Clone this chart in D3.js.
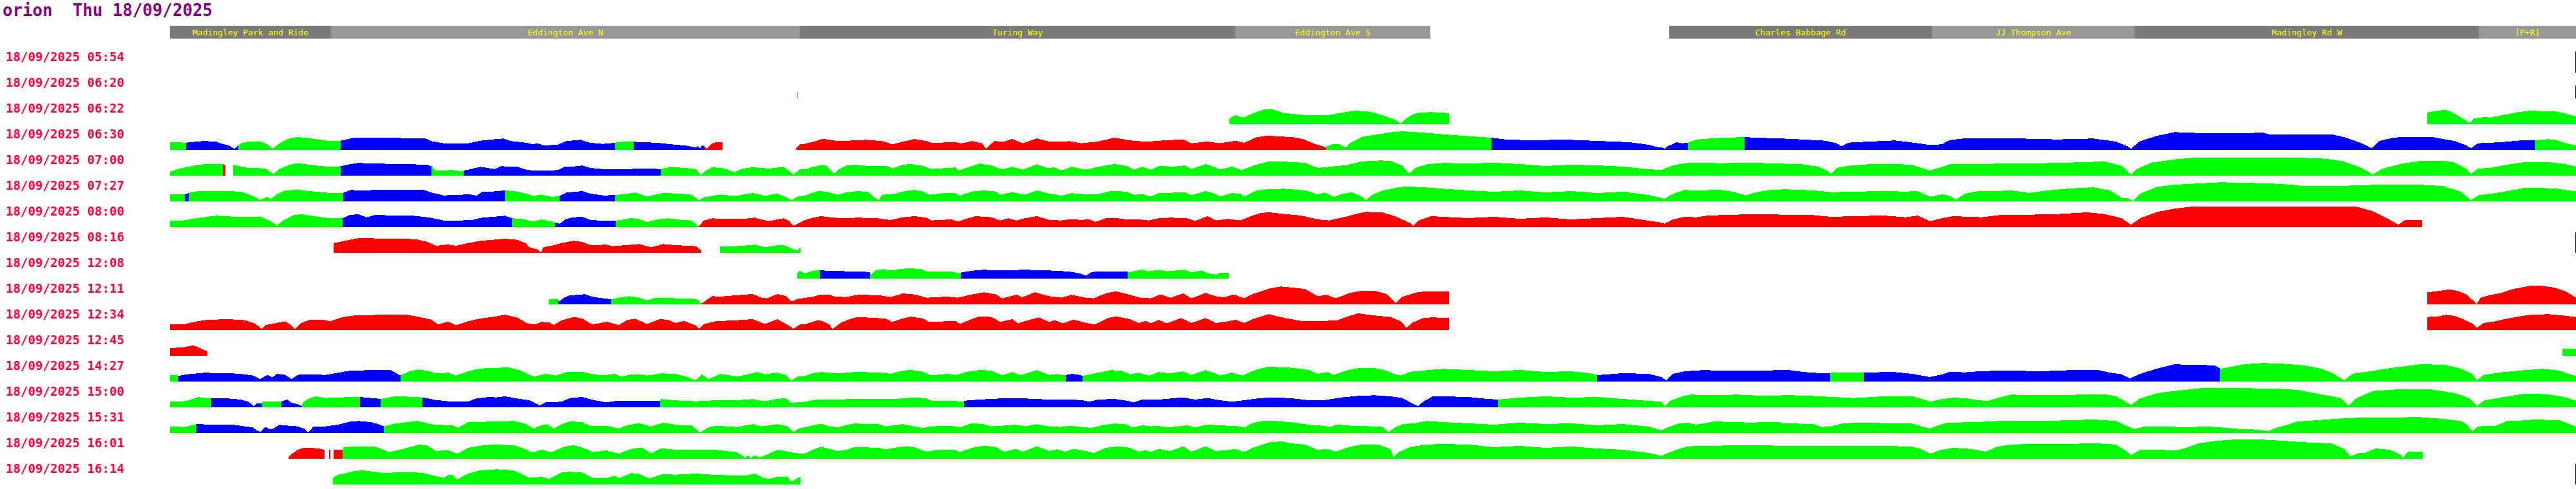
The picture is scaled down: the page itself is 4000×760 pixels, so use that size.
<!DOCTYPE html>
<html>
<head>
<meta charset="utf-8">
<script src="https://cdn.jsdelivr.net/npm/d3@7"></script>
<style>
  body { margin: 0; background: #fff; }
  svg { display: block; }
  text { font-family: "DejaVu Sans Mono", monospace; }
</style>
</head>
<body>
<svg id="chart" width="4000" height="760"></svg>
<script>
// bus "orion", one strip per journey, x = position along the route, height = speed

const title = "orion  Thu 18/09/2025";

const stops = ["Madingley Park and Ride", "Eddington Ave N", "Turing Way", "Eddington Ave S",
               "Charles Babbage Rd", "JJ Thompson Ave", "Madingley Rd W", "[P+R]"];
const stopFrom = [264, 514, 1242, 1918, 2592, 3000, 3315, 3849];
const stopTo   = [514, 1242, 1918, 2221, 3000, 3315, 3849, 4000];

const journeys = ["18/09/2025 05:54", "18/09/2025 06:20", "18/09/2025 06:22", "18/09/2025 06:30",
                  "18/09/2025 07:00", "18/09/2025 07:27", "18/09/2025 08:00", "18/09/2025 08:16",
                  "18/09/2025 12:08", "18/09/2025 12:11", "18/09/2025 12:34", "18/09/2025 12:45",
                  "18/09/2025 14:27", "18/09/2025 15:00", "18/09/2025 15:31", "18/09/2025 16:01",
                  "18/09/2025 16:14"];

// speed profiles [position, speed], null = no data
const p0 = [[3999,33],[4000,33]];
const p1 = [[1238,10],[1239,10],[1240,null],[3999,20],[4000,20]];
const p2 = [[1909,7],[1913,12],[1919,13.7],[1924,12],[1931,10.3],[1938,13.7],[1951,18.7],[1963,22.7],[1973,23.7],[1982,21.3],[1995,17],[2008,16],[2027,13.7],[2046,13.7],[2064,14.3],[2083,17.7],[2102,20.7],[2121,20.3],[2134,17.7],[2153,12],[2166,7],[2176,1],[2181,7],[2191,13.7],[2203,17.7],[2222,18.7],[2240,18],[2250,17],[2251,null],
  [3769,18],[3780,20.3],[3794,22],[3803,21],[3816,13.7],[3830,5.3],[3836,2],[3841,8.7],[3857,11],[3866,10.3],[3884,13.7],[3911,18.7],[3929,21],[3948,20],[3970,19.7],[3988,15.3],[4000,12]];
const p3 = [[264,12],[289,11.3],[304,12.7],[317,14],[336,12.7],[342,10.3],[355,7],[364,2],[369,6],[374,10.3],[386,13],[405,12.7],[415,8.7],[423,2],[425,3.7],[437,12],[449,17.7],[462,20],[475,18.7],[494,16.3],[513,13.7],[529,14.3],[531,14.7],[550,19],[576,18.7],[607,19],[639,18],[661,17.7],[670,13.7],[689,10.3],[727,10.3],[746,14.3],[765,16.3],[781,17.7],[794,13.7],[816,11.3],[828,8.7],[835,10.3],[844,7],[866,8],[879,13.7],[901,15.7],[917,11],[936,9.3],[948,10.3],[955,11.3],[967,12.7],[984,13],[992,12],[1018,11.3],[1043,8.7],[1068,6.3],[1081,3.7],[1084,6],[1087,2],[1090,7],[1093,6.3],[1097,2],[1106,10.3],[1112,12],[1122,12],[1123,null],
  [1236,2],[1242,8.7],[1250,9.5],[1263,12.7],[1278,17.3],[1301,13.7],[1326,14.7],[1345,15.7],[1370,13.7],[1386,8.7],[1402,12.7],[1420,17],[1439,13.7],[1446,11],[1484,12],[1493,10],[1509,13.7],[1525,10.3],[1531,2],[1544,13.7],[1559,13],[1572,17],[1588,10.3],[1610,17.7],[1629,13],[1648,12.7],[1660,13.7],[1679,10.3],[1705,13],[1730,19],[1755,14.7],[1780,12.7],[1806,14.7],[1837,16.3],[1850,10.3],[1875,13],[1894,10.3],[1919,14.3],[1932,11],[1951,19.7],[1967,22],[1982,21.3],[2008,19.7],[2023,17],[2039,10.3],[2059,3.7],
  [2060,5.3],[2068,8.7],[2080,8.7],[2090,3.7],[2096,10.3],[2115,20.3],[2140,24.3],[2159,27.3],[2178,29],[2197,27.7],[2222,26],[2240,24.3],[2270,22],[2300,20],[2316,19],[2340,16],[2380,15],[2430,16],[2480,14],[2530,12],[2560,8],[2575,4],
  [2580,3.7],[2585,2],[2589,5.3],[2603,12],[2612,10.3],[2621,11],[2634,16],[2662,18.3],[2709,20],[2725,19],[2761,18],[2797,16.3],[2834,14.3],[2852,10.3],[2859,5.3],[2870,11.3],[2897,12.7],[2942,14.7],[2960,12.7],[2978,10.3],[2997,7.7],[3015,8.7],[3028,15.3],[3051,18],[3105,18.3],[3141,17.7],[3160,17],[3196,16.3],[3250,17.7],[3286,13],[3304,5.3],[3309,2],[3323,13.7],[3350,22],[3377,27.7],[3413,26.3],[3486,26],[3513,27],[3526,23.7],[3576,24.3],[3621,24.3],[3644,18.7],[3667,10.3],[3683,2.7],[3694,13.7],[3717,19.3],[3748,20.3],[3775,20.3],[3812,13.7],[3830,7],[3837,2.7],[3848,10.3],[3884,12],[3920,15.3],[3936,14.7],[3957,16.7],[3970,15.3],[3984,10.3],[4000,7]];
const p4 = [[264,5.3],[269,7.7],[279,11],[292,13.7],[304,16.3],[317,17.7],[346,17.7],[350,17],[351,null],[362,17],[374,14.3],[386,12],[412,11.3],[421,5.3],[425,3],[434,10.3],[449,17],[462,19.3],[481,17],[500,14.7],[519,13.7],[529,14.7],[544,18],[557,19.7],[588,18.7],[639,17.7],[664,17],[670,14.3],[677,7.7],[702,8.7],[715,7],[720,7.7],[734,11],[746,13.7],[759,11.7],[768,10.3],[778,14.7],[803,13.7],[816,9.7],[828,7.7],[847,7.7],[866,8.7],[876,13.7],[891,14.3],[904,15.7],[917,12],[942,9.7],[955,10.3],[973,10.3],[1005,11],[1026,10.3],[1043,13.7],[1062,12],[1081,10.3],[1088,1],[1097,8.7],[1106,13],[1125,11.3],[1141,5.3],[1150,10.3],[1169,13],[1194,11],[1217,13.7],[1232,2],[1242,9.7],[1250,9.7],
  [1263,13.7],[1278,17],[1285,14.3],[1291,7],[1295,3],[1301,8.7],[1313,15.3],[1326,17],[1345,15.3],[1376,15.3],[1386,11.3],[1402,17],[1414,18],[1433,15.3],[1446,10.3],[1471,12],[1484,12.7],[1489,8],[1503,13],[1521,18.7],[1540,16],[1556,9.7],[1572,13.7],[1588,9.3],[1610,17.7],[1626,12],[1638,12.7],[1648,8],[1664,13.7],[1686,9.3],[1701,12.7],[1717,16],[1730,18],[1749,15.3],[1761,9.7],[1774,13.7],[1787,9.3],[1799,14.7],[1825,14.3],[1840,16],[1850,10.3],[1872,18],[1881,15.3],[1894,9.7],[1913,13.7],[1929,8.7],[1945,15.3],[1970,22],[2008,21.3],[2027,19.7],[2046,12],[2064,13.7],[2090,16.3],[2115,22],[2143,23.7],[2159,23],[2178,15.3],[2186,5.3],[2189,3.7],[2197,12],[2216,17.7],[2240,19.7],[2280,19],[2320,20],[2360,18],[2400,15],[2440,17],[2480,16],[2520,14],[2560,10],
  [2580,8.7],[2587,12],[2598,16],[2616,19.3],[2634,20.3],[2671,19.3],[2716,20.3],[2761,18.7],[2797,18],[2825,13.7],[2838,7],[2844,3],[2852,12],[2870,15.3],[2906,18],[2942,18],[2969,17],[2983,12],[2997,8],[3010,12],[3028,18],[3078,18],[3123,19.3],[3169,19.3],[3214,20.3],[3268,22],[3295,15.3],[3309,2],[3318,10.3],[3341,20.3],[3377,25.3],[3404,27.7],[3486,27.7],[3576,27.7],[3612,26.3],[3640,22],[3667,12],[3685,2],[3698,10.3],[3730,18.7],[3757,22.7],[3794,23.3],[3812,20.3],[3830,10.3],[3837,2.7],[3848,11],[3866,12],[3893,17],[3920,21],[3957,21],[3984,18],[4000,14.3]];
const p5 = [[264,11],[287,11],[293,13],[304,15.3],[317,16.3],[355,16.3],[374,14.7],[386,11],[396,7],[404,2],[415,7],[421,3.7],[430,11.3],[443,17],[462,18],[481,16],[513,13],[533,13],[544,17.7],[563,17],[588,18],[639,18],[658,17.7],[670,13.7],[689,9.3],[715,10.3],[730,11],[740,8.7],[749,15.3],[765,15.3],[784,17],[803,15.3],[816,12],[828,8.7],[841,10.3],[857,7],[869,8.7],[879,13.7],[904,16],[917,12],[936,9.3],[955,9.7],[967,11],[986,13.7],[1005,7.7],[1030,13],[1056,12],[1074,10.3],[1085,2],[1093,6.3],[1116,10.3],[1144,8.7],[1169,13],[1188,8.7],[1207,12],[1220,7],[1229,2],[1239,7.7],[1250,9],
  [1269,16],[1282,15.3],[1301,10.3],[1313,13.7],[1332,16],[1348,14.7],[1357,7],[1364,2],[1370,10.3],[1386,11],[1402,15.3],[1420,18],[1433,15.3],[1443,10.3],[1465,12.7],[1484,12.7],[1490,8.7],[1509,15.3],[1528,17],[1547,15.3],[1553,10.3],[1572,14.3],[1591,10.3],[1610,17],[1629,12],[1638,11],[1648,8.7],[1664,12.7],[1686,11],[1705,11.3],[1724,16],[1749,15.3],[1761,10.3],[1774,11],[1787,7.7],[1799,12.7],[1825,13.7],[1840,14.3],[1850,9.7],[1872,16],[1885,12.7],[1894,7.7],[1913,12.7],[1926,12],[1932,7.7],[1951,17],[1967,18.7],[1995,19.7],[2027,17],[2046,11],[2058,13.7],[2071,7],[2083,11.3],[2099,14.3],[2115,7],[2121,2],[2131,10.3],[2147,17],[2172,22],[2184,23],[2210,22],[2240,19.7],[2280,17],[2320,15],[2360,17],[2400,14],[2440,16],[2480,13],[2520,15],[2560,10],
  [2580,5.3],[2585,3.7],[2594,10.3],[2616,17.7],[2634,17],[2671,18],[2689,15.3],[2711,9.3],[2725,13.7],[2748,17.7],[2770,18.7],[2797,18],[2825,16.3],[2843,14.3],[2870,14.7],[2915,16],[2960,15.3],[2978,16],[2997,7],[3015,11],[3028,8.7],[3037,2.7],[3051,12],[3074,16.3],[3105,16.3],[3123,17],[3151,13],[3178,17],[3205,19.3],[3250,22],[3277,17],[3295,5.3],[3305,4.7],[3312,1],[3323,12],[3350,22.7],[3377,26],[3449,29.7],[3522,28],[3558,26],[3576,23.7],[3631,23.7],[3667,25.3],[3721,26],[3757,26],[3794,23.7],[3821,15.3],[3837,2],[3848,9.3],[3884,14.3],[3920,21],[3966,20.3],[4000,15.3]];
const p6 = [[264,10.3],[285,10.3],[304,13.7],[323,16.3],[336,17.7],[361,16.3],[405,16],[418,10.3],[430,3],[440,10.3],[456,18.7],[468,20],[487,17],[513,13.7],[532,13.7],[544,19.3],[557,19.7],[569,15.3],[582,18.7],[639,18],[664,15.3],[677,13],[689,10.3],[715,10.3],[734,11.3],[746,14.3],[765,16],[784,17.7],[795,13.7],[809,13],[828,8.7],[841,12],[857,8.7],[862,7],[869,5.3],[879,12.7],[891,15.3],[904,16],[917,11.3],[936,9.7],[956,9.7],[980,14],[992,12.7],[1005,7.7],[1018,11.3],[1037,13.7],[1056,11.3],[1074,10.3],[1084,2],[1085,1.3],[1093,10.3],[1106,13.7],[1125,12.7],[1157,13],[1172,14.7],[1182,12],[1194,9.3],[1207,12],[1217,13.7],[1226,9.3],[1232,2],[1242,7],[1250,11],
  [1263,14.7],[1275,17],[1294,14.7],[1313,13.7],[1332,14.7],[1364,13.7],[1383,11],[1402,15.3],[1420,17],[1439,14.7],[1446,10.3],[1477,12],[1487,8.7],[1503,13.7],[1515,17],[1540,15.3],[1553,10.3],[1566,13.7],[1578,10.3],[1591,13.7],[1610,17],[1629,11.3],[1648,10.3],[1660,12],[1679,11.3],[1692,12],[1701,8],[1717,13.7],[1736,13.7],[1749,12],[1768,12],[1784,10.3],[1799,13.7],[1818,14.7],[1843,13.7],[1856,9.7],[1875,17],[1888,10.3],[1907,12.7],[1926,10.3],[1938,15.3],[1957,22],[1970,23],[1995,20.3],[2020,18],[2039,13.7],[2052,11.3],[2064,10.3],[2071,12],[2090,16.3],[2109,21.3],[2121,23.7],[2147,22.7],[2166,17],[2181,10.3],[2191,5.3],[2194,2],[2203,10.3],[2222,17],[2240,16],[2280,14],[2320,16],[2360,13],[2400,15],[2440,12],[2480,14],[2520,16],[2560,10],
  [2580,7],[2585,5.3],[2598,12],[2616,16],[2634,15.3],[2652,18],[2716,20],[2779,19.3],[2815,18.7],[2843,16],[2879,17],[2924,18],[2960,15.3],[2978,18],[2997,9.3],[3015,13.7],[3033,17],[3078,15.3],[3105,18.7],[3151,19.3],[3196,20.3],[3241,23],[3268,20.3],[3295,13.7],[3309,3.7],[3323,13.7],[3350,23.7],[3377,28.7],[3404,32],[3486,32],[3576,32],[3658,32],[3685,24.7],[3707,13.7],[3724,3.7],[3735,11.3],[3744,11.3],[3761,11.3],[3762,null]];
const p7 = [[518,15.3],[528,17],[538,19.3],[557,23],[576,22.7],[595,22],[614,22],[645,21.3],[664,17],[677,11],[696,13],[708,11],[727,15.3],[746,18.7],[765,20.3],[784,22],[803,20.3],[816,15.3],[822,8.7],[835,5.3],[840,1],[844,8.7],[860,12],[872,15.3],[891,18.7],[904,17],[917,12],[942,12.7],[951,10.3],[973,12],[992,13.7],[1011,8.7],[1030,13.7],[1049,12],[1081,10.3],[1089,3.7],[1090,null],
  [1118,10.3],[1144,10.3],[1172,12.7],[1188,8.7],[1213,12.7],[1226,8.7],[1232,5.3],[1239,3.7],[1243,8.7],[1244,null],[3999,32],[4000,32]];
const p8 = [[1238,8],[1241,12],[1245,10.7],[1250,8],[1259,11.3],[1269,13],[1273,13],[1288,12],[1319,11.3],[1351,10.3],[1352,5.3],[1360,13],[1373,14.7],[1383,12.7],[1402,15.3],[1414,16],[1433,14.3],[1439,11],[1477,11],[1492,7.7],[1493,9.7],[1515,13],[1528,13.7],[1553,12.7],[1591,13.7],[1629,12.7],[1660,11],[1679,7.7],[1686,4.3],[1695,10.3],[1717,11.3],[1751,11],[1752,9.7],[1768,13],[1774,13.7],[1784,11.3],[1799,13.7],[1812,11.3],[1831,13],[1840,13.7],[1850,9.7],[1866,12.7],[1875,8.7],[1888,6],[1894,8.7],[1908,8.7]];
const p9 = [[852,7.7],[860,8.7],[867,8],[868,4.3],[876,10.3],[885,14.3],[901,14.7],[907,16],[917,12.7],[929,10.3],[942,8.7],[949,8],[961,10.3],[977,12.7],[992,10.3],[1005,6.3],[1018,10.3],[1037,10.3],[1056,8.7],[1074,9.3],[1084,7],[1088,1],[1093,3.7],[1106,12.7],[1119,12],[1138,13.7],[1169,16],[1182,10.3],[1191,9.3],[1207,16],[1220,13],[1229,4.3],[1239,8.7],[1250,10],
  [1263,12],[1275,15.3],[1288,14.7],[1297,12],[1313,11.3],[1332,14.7],[1364,14.3],[1383,11.3],[1402,17],[1420,15.3],[1439,10.3],[1471,12],[1487,10.3],[1509,15.3],[1528,18.7],[1547,15.3],[1556,9.3],[1578,14.7],[1588,11.3],[1607,18.7],[1629,12.7],[1648,10.3],[1664,14.7],[1686,10.3],[1698,9.3],[1717,17],[1733,20.3],[1755,14.7],[1771,10.3],[1787,9.3],[1802,15.3],[1818,10.3],[1837,17],[1850,9.3],[1872,17.7],[1888,12.7],[1900,11],[1916,15.3],[1932,9.3],[1945,16],[1970,24.3],[1989,27.7],[2008,26],[2027,23.7],[2046,12.7],[2061,14.7],[2074,9.3],[2096,17.7],[2115,21.3],[2134,21.3],[2153,16],[2167,2],[2178,12],[2203,19.3],[2222,20],[2240,20],[2250,20],[2251,null],
  [3769,18.7],[3784,20.3],[3803,23],[3816,21],[3830,15.3],[3839,7],[3846,1],[3852,10.3],[3866,14.3],[3884,17.7],[3902,23.7],[3929,28.7],[3948,28.7],[3966,26],[3984,20.3],[4000,10.3]];
const p10 = [[264,8.7],[288,9.3],[298,12],[311,14.3],[323,16],[355,17],[380,15.3],[396,10.3],[406,2],[412,7.7],[430,11],[443,13.7],[453,7],[458,1.3],[468,11],[481,16],[500,16.3],[513,13.7],[531,19.7],[550,22.7],[588,23.7],[633,23.7],[651,20.3],[670,16.3],[680,8.7],[696,13],[708,7.7],[727,13.7],[746,18],[765,20.3],[784,23.7],[803,19.7],[819,10.3],[831,8.7],[841,12.7],[853,12],[860,7.7],[872,15.3],[891,20.3],[904,18],[920,8.7],[929,10.3],[942,13],[961,7.7],[973,15.3],[986,17.7],[1005,9.3],[1024,17],[1037,16],[1049,11],[1062,14.3],[1081,7],[1085,2],[1093,9.3],[1112,13.7],[1144,15.3],[1169,17],[1188,9.3],[1207,17],[1226,6.3],[1232,2],[1242,8.7],[1250,9],
  [1259,12],[1269,15.3],[1278,13.7],[1288,8.7],[1292,2],[1295,3.7],[1307,12],[1319,17],[1332,20.3],[1351,19.3],[1376,17.7],[1386,12.7],[1402,18],[1414,21],[1433,18],[1443,12.7],[1471,13.7],[1484,14.3],[1490,9.3],[1509,17],[1521,21.3],[1540,20.3],[1553,12.7],[1572,17],[1581,10.3],[1591,13.7],[1613,19.7],[1629,12.7],[1638,15.3],[1651,10.3],[1667,16.3],[1686,11.3],[1700,8.7],[1720,18.7],[1733,21.3],[1755,17],[1768,11],[1780,14.3],[1787,10.3],[1799,16],[1812,10.3],[1834,18.7],[1850,11],[1872,18.7],[1888,11],[1907,13.7],[1919,16],[1932,11],[1945,17],[1970,24.7],[1995,18.7],[2020,14.3],[2058,14.3],[2077,15.3],[2090,20.3],[2109,26],[2134,22.7],[2159,20.3],[2175,13.7],[2184,3.7],[2194,12],[2210,18.7],[2222,19.7],[2240,19.3],[2250,19],[2251,null],
  [3769,20.3],[3784,21],[3798,23.7],[3812,22],[3825,17],[3839,10.3],[3846,3.7],[3857,11],[3875,13.7],[3889,17],[3911,21],[3929,23.7],[3957,24.7],[3979,22.7],[4000,20.3]];
const p11 = [[264,12],[276,12.7],[288,13.7],[295,15.3],[301,16],[307,13.7],[314,10.3],[320,7.7],[322,7],[323,null],[3979,11.3],[3993,11.3],[4000,10.3]];
const p12 = [[264,9.7],[276,9.7],[277,8.7],[285,10.3],[298,12],[317,13.7],[361,12.7],[380,11.3],[393,9.3],[404,3.7],[415,10.3],[423,6.3],[430,12],[443,10.3],[453,3.7],[462,10.3],[475,11.3],[506,10.3],[525,13.7],[544,17],[588,18],[607,17.7],[617,12],[622,9.7],[639,17],[651,18.7],[670,15.3],[677,12.7],[696,13.7],[708,9.3],[727,16],[746,20.3],[790,22],[809,17],[822,10.3],[831,8],[847,12],[863,9.3],[882,15.3],[904,15.3],[917,12],[936,9.7],[955,12],[964,7.7],[980,11],[996,11],[1005,9.3],[1027,12.7],[1049,12],[1068,7],[1081,2],[1090,11.3],[1100,3.7],[1119,12],[1144,7.7],[1157,10.3],[1176,14.7],[1188,11.3],[1207,13.7],[1220,10.3],[1229,2],[1239,8],[1250,8.7],
  [1263,13],[1275,14.7],[1301,12.7],[1326,14.7],[1364,14.3],[1383,12],[1402,17],[1414,18],[1433,15.3],[1446,9.7],[1471,12],[1484,10.3],[1503,15.3],[1521,18],[1540,17],[1556,9.7],[1572,14.7],[1585,9.7],[1610,17.7],[1629,10.3],[1641,11.7],[1655,9.7],[1656,10.3],[1664,12],[1676,10.3],[1681,8.7],[1705,13.7],[1724,17.7],[1742,17],[1755,11],[1768,13.7],[1784,9.3],[1799,14.7],[1818,12.7],[1837,16],[1850,10.3],[1872,17.7],[1885,13.7],[1894,9.3],[1913,13.7],[1929,9.3],[1951,18.7],[1970,23],[2008,21.3],[2033,18],[2046,12],[2061,14.7],[2071,10.3],[2090,17],[2109,21],[2134,21],[2153,17],[2166,11.3],[2175,9.3],[2191,15.3],[2216,17.7],[2240,19.7],[2280,18],[2320,16],[2360,18],[2400,15],[2440,16],[2474,12],[2480,10],[2520,13],[2560,12],
  [2580,7],[2587,2],[2598,12],[2616,16],[2643,17.7],[2689,17],[2779,17.7],[2797,15.3],[2815,13.7],[2842,12.7],[2843,13.7],[2870,13.7],[2894,13.7],[2895,14.3],[2942,14.7],[2969,12],[2997,7],[3015,11],[3028,15.3],[3051,14.3],[3078,16.3],[3123,17],[3169,16],[3214,17.7],[3259,17.7],[3277,13.7],[3295,11.3],[3307,4.7],[3323,12],[3350,20.3],[3377,27],[3395,26],[3413,26.3],[3440,24.7],[3447,20.3],[3448,19.7],[3468,23.7],[3486,27],[3513,28.7],[3540,28],[3576,25.3],[3603,20.3],[3621,13.7],[3640,2],[3653,12],[3676,15.3],[3712,21],[3757,26.7],[3794,26.3],[3821,20.3],[3839,12],[3846,2],[3857,10.3],[3884,14.3],[3920,17.7],[3948,19.7],[3975,17],[3993,10.3],[4000,8.7]];
const p13 = [[264,9.3],[285,9.3],[295,11.3],[307,16],[320,14.3],[328,14.3],[355,13.7],[374,12],[386,8.7],[394,2],[399,6],[407,6],[408,9.3],[437,9.3],[446,12],[453,7],[462,4.7],[469,2],[470,7],[478,13],[490,17],[506,14.3],[525,15.3],[559,16],[591,13],[614,17],[639,16.3],[656,15.3],[677,11.3],[696,9.3],[727,9.3],[740,13.7],[759,16],[771,15.3],[784,17],[803,13.7],[822,11],[838,2.7],[847,7.7],[872,8.7],[885,14.3],[904,16],[923,11],[942,7.7],[955,9.7],[986,10.3],[1025,10.3],[1026,12.7],[1056,10.3],[1081,9.3],[1112,11],[1144,11],[1169,12.7],[1188,9.3],[1207,13],[1220,14.3],[1229,7],[1239,7.7],[1250,8.7],
  [1269,12],[1301,12],[1326,13],[1376,12.7],[1402,13.7],[1420,15.3],[1439,13.7],[1446,10.3],[1477,10.3],[1497,8.7],[1498,10.3],[1521,12],[1553,13.7],[1591,13.7],[1629,12],[1654,12],[1679,11.3],[1692,8.7],[1705,12],[1730,13],[1749,10.3],[1761,7.7],[1774,12],[1799,12],[1818,13.7],[1837,15.3],[1856,12],[1875,14.3],[1894,11],[1913,8.7],[1932,11],[1957,14.3],[1982,15.3],[2008,13.7],[2033,11],[2058,11.3],[2083,15.3],[2109,17.7],[2134,18.7],[2159,17],[2178,14.3],[2191,7],[2202,2],[2210,8.7],[2225,17],[2240,17],[2280,16],[2310,13],[2326,12],[2360,15],[2400,17],[2440,15],[2480,16],[2520,13],[2560,10],
  [2580,8.7],[2585,2],[2594,10.3],[2612,17],[2625,19.7],[2662,18.7],[2698,19.7],[2734,18],[2779,18.7],[2806,18],[2825,17],[2879,14.3],[2924,17],[2969,17],[2988,12],[2997,8.7],[3015,12.7],[3033,14.7],[3051,14.3],[3069,11.3],[3087,9.7],[3101,14.3],[3123,19.7],[3160,18.7],[3214,19.3],[3268,20.3],[3286,17],[3295,12],[3309,3.7],[3323,13.7],[3350,22],[3377,25.3],[3422,30.3],[3486,29.7],[3540,28.7],[3567,27],[3603,20.3],[3635,14.3],[3647,2],[3658,13.7],[3685,25.3],[3721,27.7],[3775,27.7],[3812,22],[3834,14.3],[3846,2],[3857,10.3],[3884,15.3],[3920,21],[3957,20.3],[3984,15.3],[4000,10.3]];
const p14 = [[264,10.3],[285,9.3],[295,11.3],[305,13.7],[342,13],[364,12.7],[380,10.3],[393,8.7],[398,4.3],[404,2],[412,9.3],[421,5.3],[434,12.7],[449,11.3],[462,10.3],[472,7],[479,1],[487,10.3],[506,10.3],[525,13],[544,17.7],[557,18.7],[576,17],[588,13.7],[596,10.3],[614,14.7],[633,17],[648,18.7],[670,13.7],[696,12],[702,12.7],[711,8],[727,17],[765,17.7],[797,18.7],[816,14.7],[828,7],[841,12],[850,13.7],[860,7],[872,13.7],[885,18],[904,17],[917,11],[942,11.3],[961,7],[973,12],[992,15.3],[1011,10.3],[1030,16],[1056,12],[1074,12],[1087,1],[1100,8.7],[1112,11.3],[1144,9.3],[1169,13.7],[1182,10.3],[1207,13.7],[1223,10.3],[1232,2],[1242,7.7],[1250,9],
  [1263,12],[1275,14.3],[1288,10.3],[1301,8.7],[1313,12],[1326,14.7],[1364,13.7],[1376,10.3],[1389,12],[1402,13.7],[1420,10.3],[1433,7.7],[1446,10.3],[1477,11.3],[1490,8.7],[1509,15.3],[1528,13.7],[1540,10.3],[1566,12],[1578,12.7],[1591,10.3],[1610,13.7],[1629,10.3],[1648,9.3],[1660,11.3],[1679,9.3],[1695,8],[1711,12],[1730,14.7],[1749,13.7],[1758,8.7],[1774,12],[1787,10.3],[1799,11],[1812,8.7],[1831,10.3],[1843,12],[1856,8.7],[1875,13],[1907,11.3],[1926,10.3],[1932,8.7],[1945,15.3],[1960,18.7],[1982,18.7],[2008,16.3],[2039,12],[2055,11.3],[2064,9.3],[2077,13],[2102,11],[2134,10.3],[2147,9.3],[2156,1.3],[2166,8.7],[2178,13.7],[2197,15.3],[2216,18.7],[2240,17],[2280,15],[2320,13],[2360,16],[2400,14],[2440,15],[2480,12],[2520,14],[2560,10],
  [2580,4.3],[2594,10.3],[2607,14.7],[2621,16],[2634,13],[2648,15.3],[2662,18],[2689,17],[2716,16.3],[2761,17],[2770,14.7],[2815,14.3],[2829,9.3],[2843,10.3],[2861,14.7],[2879,16],[2933,15.3],[2969,14.7],[2983,10.3],[2997,7],[3015,13.7],[3024,16],[3069,17],[3105,18.7],[3141,18.7],[3214,19.7],[3250,21],[3286,18.7],[3304,10.3],[3314,6.3],[3332,10.3],[3359,9.7],[3395,9.3],[3431,9.7],[3449,8.7],[3477,6.3],[3504,5.3],[3522,3],[3531,7],[3549,12],[3567,17.7],[3603,20.3],[3640,23],[3685,24.3],[3721,24.3],[3757,24.7],[3794,22],[3821,18.7],[3830,13.7],[3839,3],[3848,10.3],[3875,11.3],[3893,18.7],[3920,19.7],[3938,21],[3975,19.7],[3999,10.3],[4000,10.3]];
const p15 = [[448,2],[453,7.7],[462,13.7],[472,17],[494,16.3],[504,13.7],[505,null],[511,13.7],[513,13.7],[514,null],[518,13.7],[532,14.3],[533,18],[563,19.3],[582,18.7],[591,16],[604,10.3],[626,15.3],[651,22],[664,20.3],[677,12],[696,13.7],[710,7.7],[727,17],[746,20.3],[765,22],[797,21],[816,15.3],[825,9.7],[841,13.7],[857,10.3],[876,18.7],[891,21],[910,15.3],[920,10.3],[942,13],[961,7.7],[980,15.3],[996,17.7],[1011,8.7],[1027,16.3],[1046,14.3],[1106,14.3],[1119,13],[1144,10.3],[1157,2],[1162,5.3],[1166,1],[1172,5.3],[1179,2],[1188,5.3],[1207,13.7],[1220,12],[1235,8.7],[1250,8],
  [1263,14.3],[1275,18.7],[1288,15.3],[1301,12],[1313,13.7],[1326,17.7],[1345,17.7],[1364,17],[1376,14.7],[1389,17],[1405,19.3],[1420,18],[1439,11],[1458,14.3],[1484,13.7],[1490,10.3],[1509,17],[1528,20.3],[1547,18],[1559,11],[1578,15.3],[1588,11],[1610,19.3],[1629,12],[1641,14.7],[1654,11],[1667,15.3],[1686,12],[1698,8.7],[1717,17],[1736,19.3],[1755,17],[1768,11],[1780,13.7],[1787,10.3],[1799,15.3],[1818,12],[1837,19.3],[1850,11],[1872,19.3],[1888,12],[1907,13.7],[1919,15.3],[1932,10.3],[1945,17],[1970,25.3],[1989,27],[2008,23.7],[2027,22],[2046,13.7],[2061,15.3],[2074,11],[2096,18.7],[2115,22],[2140,22],[2159,15.3],[2164,2],[2172,10.3],[2191,18.7],[2216,22],[2240,23],[2280,22],[2320,18],[2360,20],[2400,17],[2440,19],[2480,16],[2520,14],[2560,9],
  [2580,4.3],[2589,8.7],[2607,15.3],[2621,19.3],[2652,20.3],[2734,21],[2761,20.3],[2852,20.3],[2924,20.3],[2969,18.7],[2983,15.3],[2997,7.7],[3015,13.7],[3033,17],[3060,15.3],[3083,11],[3101,18.7],[3123,22],[3151,23],[3214,23],[3250,24.3],[3286,22],[3304,10.3],[3309,5.3],[3323,13.7],[3350,14.3],[3377,12.7],[3395,17],[3413,23.7],[3440,27.7],[3468,29.7],[3513,29.7],[3549,27.7],[3585,25.3],[3621,23.7],[3640,15.3],[3650,3.7],[3662,8.7],[3671,8.7],[3689,16],[3712,13.7],[3726,7],[3732,2],[3739,11],[3748,11.3],[3762,11]];
const p16 = [[517,10.3],[525,15.3],[538,17.7],[550,21],[563,22],[582,19.7],[595,18],[614,18.7],[645,18.7],[658,17.7],[677,13],[689,10.3],[696,14.7],[702,15.3],[710,8],[727,17],[746,22],[771,23.7],[797,22],[809,17],[822,10.3],[841,12],[853,8.7],[872,18.7],[885,19.7],[904,18.7],[920,10.3],[942,10.3],[955,13.7],[961,9.7],[980,17.7],[992,17],[1008,9.3],[1030,16.3],[1049,15.3],[1081,17],[1106,15.3],[1131,14.3],[1157,13.7],[1172,17],[1185,10.3],[1194,8.7],[1207,12],[1223,12],[1229,4.3],[1239,10.3],[1243,12],[1244,null],[3999,32],[4000,32]];

// colour runs [from, to, state]: g = on time, b = early, r = late, k = unknown
const c0 = [[3999,4000,"k"]];
const c1 = [[1238,1239,"g"],[3999,4000,"k"]];
const c2 = [[1909,2251,"g"],[3769,4000,"g"]];
const c3 = [[264,289,"g"],[289,370,"b"],[370,529,"g"],[529,955,"b"],[955,984,"g"],[984,1093,"b"],[1093,1123,"r"],[1236,2059.5,"r"],[2059.5,2316,"g"],[2316,2621,"b"],[2621,2709,"g"],[2709,3936,"b"],[3936,4000,"g"]];
const c4 = [[264,346,"g"],[346,351,"r"],[362,529,"g"],[529,670,"b"],[670,720,"g"],[720,1026,"b"],[1026,4000,"g"]];
const c5 = [[264,287,"g"],[287,293,"b"],[293,533,"g"],[533,784,"b"],[784,869,"g"],[869,955,"b"],[955,4000,"g"]];
const c6 = [[264,532,"g"],[532,795,"b"],[795,862,"g"],[862,956,"b"],[956,1085,"g"],[1085,3762,"r"]];
const c7 = [[518,1090,"r"],[1118,1244,"g"],[3999,4000,"k"]];
const c8 = [[1238,1273,"g"],[1273,1351,"b"],[1351,1492,"g"],[1492,1751,"b"],[1751,1908,"g"]];
const c9 = [[852,867,"g"],[867,949,"b"],[949,1088,"g"],[1088,2251,"r"],[3769,4000,"r"]];
const c10 = [[264,2251,"r"],[3769,4000,"r"]];
const c11 = [[264,323,"r"],[3979,4000,"g"]];
const c12 = [[264,276.5,"g"],[276.5,622,"b"],[622,1655,"g"],[1655,1681,"b"],[1681,2480,"g"],[2480,2842,"b"],[2842,2894,"g"],[2894,3447,"b"],[3447,4000,"g"]];
const c13 = [[264,328,"g"],[328,407,"b"],[407,437,"g"],[437,469,"b"],[469,559,"g"],[559,591,"b"],[591,656,"g"],[656,1025,"b"],[1025,1497,"g"],[1497,2326,"b"],[2326,4000,"g"]];
const c14 = [[264,305,"g"],[305,596,"b"],[596,4000,"g"]];
const c15 = [[448,505,"r"],[511,513,"r"],[518,532.5,"r"],[532.5,3762,"g"]];
const c16 = [[517,1244,"g"],[3999,4000,"k"]];

const profiles = [p0,p1,p2,p3,p4,p5,p6,p7,p8,p9,p10,p11,p12,p13,p14,p15,p16];
const runs = [c0,c1,c2,c3,c4,c5,c6,c7,c8,c9,c10,c11,c12,c13,c14,c15,c16];

const stateColour = {g: "#00ff00", b: "#0000ff", r: "#ff0000", k: "#000000"};

const svg = d3.select("#chart");

const x = d3.scaleLinear().domain([264, 4000]).range([264, 4000]);
const rowBase = d3.scaleLinear().domain([0, journeys.length - 1]).range([113, 753]);
const speed = d3.scaleLinear().domain([0, 40]).range([0, 40]);

// title
svg.append("text")
  .attr("x", 4).attr("y", 25)
  .attr("font-size", 26).attr("font-weight", "bold")
  .attr("fill", "#800080")
  .attr("textLength", 326).attr("lengthAdjust", "spacingAndGlyphs")
  .style("white-space", "pre")
  .text(title);

// stop band
const band = svg.append("g");
band.selectAll("rect")
  .data(stops)
  .join("rect")
    .attr("x", (d, i) => x(stopFrom[i]))
    .attr("y", 40)
    .attr("width", (d, i) => x(stopTo[i]) - x(stopFrom[i]))
    .attr("height", 20)
    .attr("fill", (d, i) => i % 2 ? "#979797" : "#7a7a7a")
    .attr("shape-rendering", "crispEdges");
band.selectAll("text")
  .data(stops)
  .join("text")
    .attr("x", (d, i) => (x(stopFrom[i]) + x(stopTo[i])) / 2)
    .attr("y", 55)
    .attr("text-anchor", "middle")
    .attr("font-size", 13)
    .attr("fill", "#ffff00")
    .text(d => d);

// journey labels
svg.append("g").selectAll("text")
  .data(journeys)
  .join("text")
    .attr("x", 9)
    .attr("y", (d, i) => rowBase(i) - 18)
    .attr("font-size", 20).attr("font-weight", "bold")
    .attr("fill", "#ff0040")
    .attr("textLength", 184).attr("lengthAdjust", "spacingAndGlyphs")
    .style("white-space", "pre")
    .text(d => d);

// strips
const defs = svg.append("defs");
profiles.forEach((pts, i) => {
  const base = rowBase(i);
  const area = d3.area()
    .defined(d => d[1] != null)
    .x(d => x(d[0]))
    .y0(base)
    .y1(d => base - speed(d[1]));
  const g = svg.append("g").attr("class", "journey");
  runs[i].forEach((r, j) => {
    const id = `clip-${i}-${j}`;
    defs.append("clipPath").attr("id", id)
      .append("rect")
        .attr("x", x(r[0]))
        .attr("width", x(r[1]) - x(r[0]))
        .attr("y", base - 40)
        .attr("height", 40);
    g.append("path")
      .attr("d", area(pts))
      .attr("fill", stateColour[r[2]])
      .attr("clip-path", `url(#${id})`)
      .attr("shape-rendering", "crispEdges");
  });
});
</script>
</body>
</html>
